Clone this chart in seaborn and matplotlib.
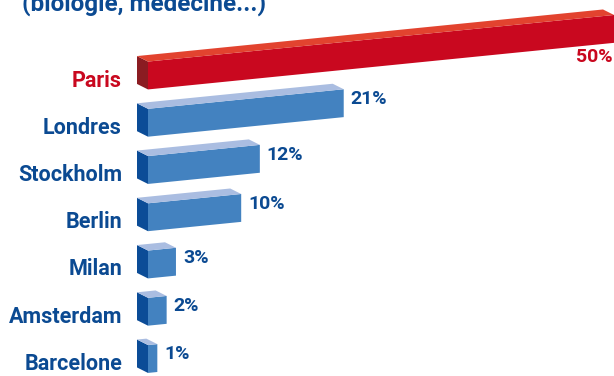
import numpy as np
import pandas as pd
import matplotlib
matplotlib.use("Agg")
import matplotlib.pyplot as plt
import seaborn as sns
from matplotlib.patches import Polygon
from matplotlib.transforms import Affine2D, IdentityTransform

# Data
cities = ["Paris", "Londres", "Stockholm", "Berlin", "Milan", "Amsterdam", "Barcelone"]
shares = [50, 21, 12, 10, 3, 2, 1]
value_labels = ["50%", "21%", "12%", "10%", "3%", "2%", "1%"]
subtitle = "(biologie, médecine...)"
highlight = "Paris"

# Colours
RED_FRONT, RED_TOP, RED_SIDE = "#C9081F", "#E2432F", "#8B1C22"
BLUE_FRONT, BLUE_TOP, BLUE_SIDE = "#4382C0", "#AABDE1", "#0B4C97"
BLUE_TEXT, RED_TEXT = "#0B4A92", "#C9081F"

sns.set_theme(style="white")
plt.rcParams["font.family"] = ["Roboto", "DejaVu Sans"]

W, H, DPI = 614, 376, 100
fig = plt.figure(figsize=(W / DPI, H / DPI), dpi=DPI)
fig.patch.set_facecolor("white")

X0 = 148  # pixel column where the bars start
ax = fig.add_axes([X0 / W, 0, 1 - X0 / W, 1])

df = pd.DataFrame({"city": cities, "share": shares})
palette = {c: (RED_FRONT if c == highlight else BLUE_FRONT) for c in cities}
sns.barplot(data=df, x="share", y="city", hue="city", order=cities,
            palette=palette, saturation=1, width=0.59, linewidth=0,
            legend=False, ax=ax)
ax.set_xlim(0, 50)
ax.set_ylim(6.360, -1.598)
ax.axis("off")

# Oblique projection: bars rise slightly to the right, depth goes up-left
slope = 0.1
shear = Affine2D().translate(-X0, 0).skew(0, np.arctan(slope)).translate(X0, 0)
T = ax.transData + shear
depth = np.array([-11.0, 5.5])

for patch, city in zip(ax.patches, cities):
    patch.set_transform(T)
    bx, by, bw, bh = patch.get_x(), patch.get_y(), patch.get_width(), patch.get_height()
    pts = T.transform([(bx, by), (bx + bw, by), (bx + bw, by + bh), (bx, by + bh)])
    # split into top / bottom edges in display space
    LB, LT = sorted([pts[0], pts[3]], key=lambda p: p[1])
    RB, RT = sorted([pts[1], pts[2]], key=lambda p: p[1])
    top_c, side_c = (RED_TOP, RED_SIDE) if city == highlight else (BLUE_TOP, BLUE_SIDE)
    side = Polygon([LB, LT, LT + depth, LB + depth], closed=True,
                   transform=IdentityTransform(), facecolor=side_c,
                   edgecolor="none", clip_on=False)
    top = Polygon([LT, RT, RT + depth, LT + depth], closed=True,
                  transform=IdentityTransform(), facecolor=top_c,
                  edgecolor="none", clip_on=False)
    ax.add_patch(side)
    ax.add_patch(top)

# Value labels at the end of each bar
for k, (city, val, lab) in enumerate(zip(cities, shares, value_labels)):
    if city == highlight:
        ax.text(val, k, lab, transform=T + Affine2D().translate(-1, -28),
                ha="right", va="center", fontsize=14, fontweight="bold",
                color=RED_TEXT, clip_on=False)
    else:
        ax.text(val, k, lab, transform=T + Affine2D().translate(7, 4),
                ha="left", va="center", fontsize=14, fontweight="bold",
                color=BLUE_TEXT, clip_on=False)

# City names to the left of the bars
for k, city in enumerate(cities):
    ax.text(0, k, city, transform=ax.transData + Affine2D().translate(-26, -5),
            ha="right", va="center", fontsize=15.5, fontweight="bold",
            color=RED_TEXT if city == highlight else BLUE_TEXT, clip_on=False)

fig.text(22 / W, 1 - 11 / H, subtitle, ha="left", va="baseline",
         fontsize=17.5, fontweight="bold", color=BLUE_TEXT)

fig.savefig("out.png", dpi=DPI, facecolor="white")
